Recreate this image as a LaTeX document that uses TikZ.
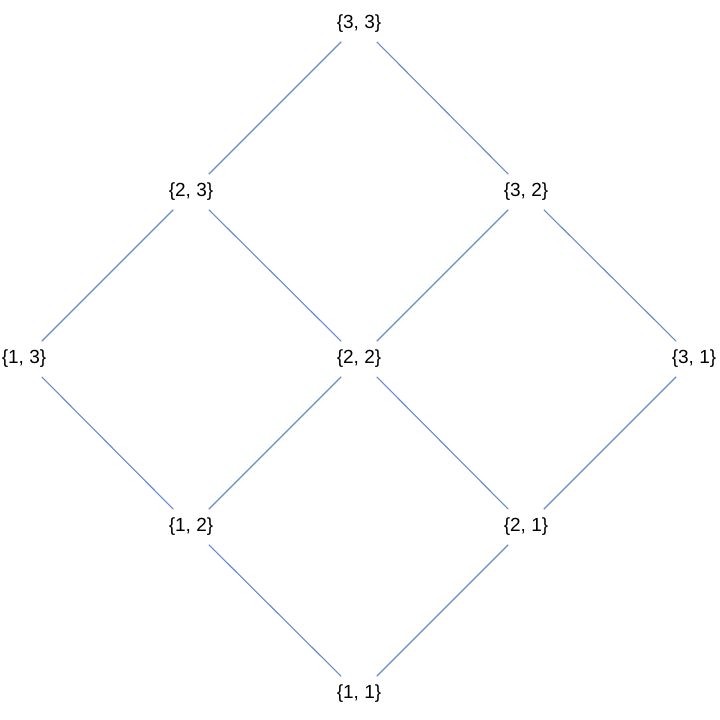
\documentclass[tikz,border=0pt]{standalone}
\usepackage{fontspec}
\setmainfont{Liberation Sans}
\definecolor{edgeblue}{rgb}{0.40,0.55,0.79}
\begin{document}
\begin{tikzpicture}[x=1pt, y=1pt,
    pair/.style={circle, inner sep=0pt, minimum size=50pt, font=\fontsize{19}{22}\selectfont},
    edge/.style={draw=edgeblue, line width=1.1pt}]
    % Frame
    \useasboundingbox (0,0) rectangle (720,720);

    % Nodes, row by row from the top
    \node[pair] (n33) at (359,696) {\{3, 3\}};
    \node[pair] (n23) at (191,528) {\{2, 3\}};
    \node[pair] (n32) at (526,528) {\{3, 2\}};
    \node[pair] (n13) at (24,361) {\{1, 3\}};
    \node[pair] (n22) at (359,361) {\{2, 2\}};
    \node[pair] (n31) at (694,361) {\{3, 1\}};
    \node[pair] (n12) at (191,193) {\{1, 2\}};
    \node[pair] (n21) at (526,193) {\{2, 1\}};
    \node[pair] (n11) at (359,26) {\{1, 1\}};

    % Edges
    \draw[edge] (n33) -- (n23);
    \draw[edge] (n33) -- (n32);
    \draw[edge] (n23) -- (n13);
    \draw[edge] (n23) -- (n22);
    \draw[edge] (n32) -- (n22);
    \draw[edge] (n32) -- (n31);
    \draw[edge] (n13) -- (n12);
    \draw[edge] (n22) -- (n12);
    \draw[edge] (n22) -- (n21);
    \draw[edge] (n31) -- (n21);
    \draw[edge] (n12) -- (n11);
    \draw[edge] (n21) -- (n11);
\end{tikzpicture}
\end{document}
